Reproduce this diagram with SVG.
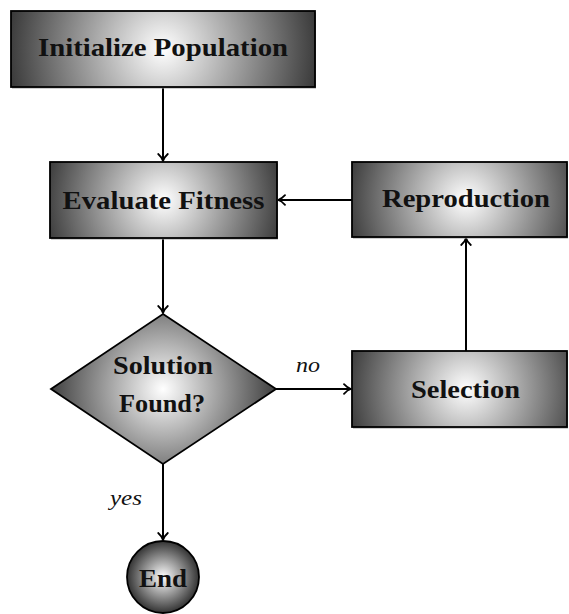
<svg xmlns="http://www.w3.org/2000/svg" width="569" height="614" viewBox="0 0 569 614">
<style>
.node{stroke:#000;stroke-width:1.8}
.shadow{fill:#a0a0a0}
.lbl{font-family:"Liberation Serif","Times New Roman",serif;font-weight:bold;font-size:25px;fill:#111;text-anchor:middle}
.edge{fill:none;stroke:#000;stroke-width:2}
.el{font-family:"Liberation Serif","Times New Roman",serif;font-style:italic;font-size:22px;fill:#111;text-anchor:middle}
</style>
<defs>
<radialGradient id="gInit" gradientUnits="userSpaceOnUse" cx="163" cy="49" r="172"><stop offset="0" stop-color="#fff"/><stop offset="1" stop-color="#252525"/></radialGradient>
<radialGradient id="gEval" gradientUnits="userSpaceOnUse" cx="163.5" cy="200" r="134"><stop offset="0" stop-color="#fff"/><stop offset="1" stop-color="#252525"/></radialGradient>
<radialGradient id="gRep" gradientUnits="userSpaceOnUse" cx="466" cy="199.5" r="134"><stop offset="0" stop-color="#fff"/><stop offset="1" stop-color="#252525"/></radialGradient>
<radialGradient id="gSel" gradientUnits="userSpaceOnUse" cx="466" cy="389" r="134"><stop offset="0" stop-color="#fff"/><stop offset="1" stop-color="#252525"/></radialGradient>
<radialGradient id="gDia" gradientUnits="userSpaceOnUse" cx="163" cy="389" r="128"><stop offset="0" stop-color="#fff"/><stop offset="1" stop-color="#252525"/></radialGradient>
<radialGradient id="gEnd" gradientUnits="userSpaceOnUse" cx="163" cy="577" r="39"><stop offset="0" stop-color="#fff"/><stop offset="1" stop-color="#222"/></radialGradient>
<marker id="arr" markerUnits="userSpaceOnUse" viewBox="-10 -6 12 12" refX="0" refY="0" markerWidth="12" markerHeight="12" orient="auto">
<path d="M-7,-4.8 C-4.5,-2 -1.5,-0.4 0,0 C-1.5,0.4 -4.5,2 -7,4.8" fill="none" stroke="#000" stroke-width="1.8" stroke-linecap="round" stroke-linejoin="round"/>
</marker>
</defs>
<g id="connectors">
<path class="edge" d="M163,87 V161" marker-end="url(#arr)"/>
<path class="edge" d="M163,238 V313" marker-end="url(#arr)"/>
<path class="edge" d="M163,464 V540" marker-end="url(#arr)"/>
<path class="edge" d="M276,389 H351" marker-end="url(#arr)"/>
<path class="edge" d="M466,351 V238" marker-end="url(#arr)"/>
<path class="edge" d="M352,200 H278" marker-end="url(#arr)"/>
<text class="el" x="308" y="372" textLength="24" lengthAdjust="spacingAndGlyphs">no</text>
<text class="el" x="126" y="505" textLength="32" lengthAdjust="spacingAndGlyphs">yes</text>
</g>
<g id="init">
<rect class="shadow" x="12" y="12.5" width="304" height="76"/>
<rect class="node" x="11" y="11" width="304" height="76" fill="url(#gInit)"/>
<text class="lbl" x="163" y="55.5" textLength="250" lengthAdjust="spacingAndGlyphs">Initialize Population</text>
</g>
<g id="evaluate">
<rect class="shadow" x="51" y="163.5" width="227" height="76"/>
<rect class="node" x="50" y="162" width="227" height="76" fill="url(#gEval)"/>
<text class="lbl" x="163.5" y="209" textLength="202" lengthAdjust="spacingAndGlyphs">Evaluate Fitness</text>
</g>
<g id="reproduction">
<rect class="shadow" x="353" y="163.5" width="215" height="75"/>
<rect class="node" x="352" y="162" width="215" height="75" fill="url(#gRep)"/>
<text class="lbl" x="466" y="207" textLength="168" lengthAdjust="spacingAndGlyphs">Reproduction</text>
</g>
<g id="selection">
<rect class="shadow" x="353" y="352.5" width="215" height="76"/>
<rect class="node" x="352" y="351" width="215" height="76" fill="url(#gSel)"/>
<text class="lbl" x="465.5" y="398" textLength="109" lengthAdjust="spacingAndGlyphs">Selection</text>
</g>
<g id="decision">
<polygon class="node" points="163,314 276,389 163,464 51,389" fill="url(#gDia)" stroke-linejoin="miter"/>
<text class="lbl" x="163" y="374" textLength="100" lengthAdjust="spacingAndGlyphs">Solution</text>
<text class="lbl" x="162" y="412" textLength="86" lengthAdjust="spacingAndGlyphs">Found?</text>
</g>
<g id="end">
<circle class="node" cx="163" cy="577" r="36" fill="url(#gEnd)"/>
<text class="lbl" x="163" y="587" textLength="48" lengthAdjust="spacingAndGlyphs">End</text>
</g>
</svg>
